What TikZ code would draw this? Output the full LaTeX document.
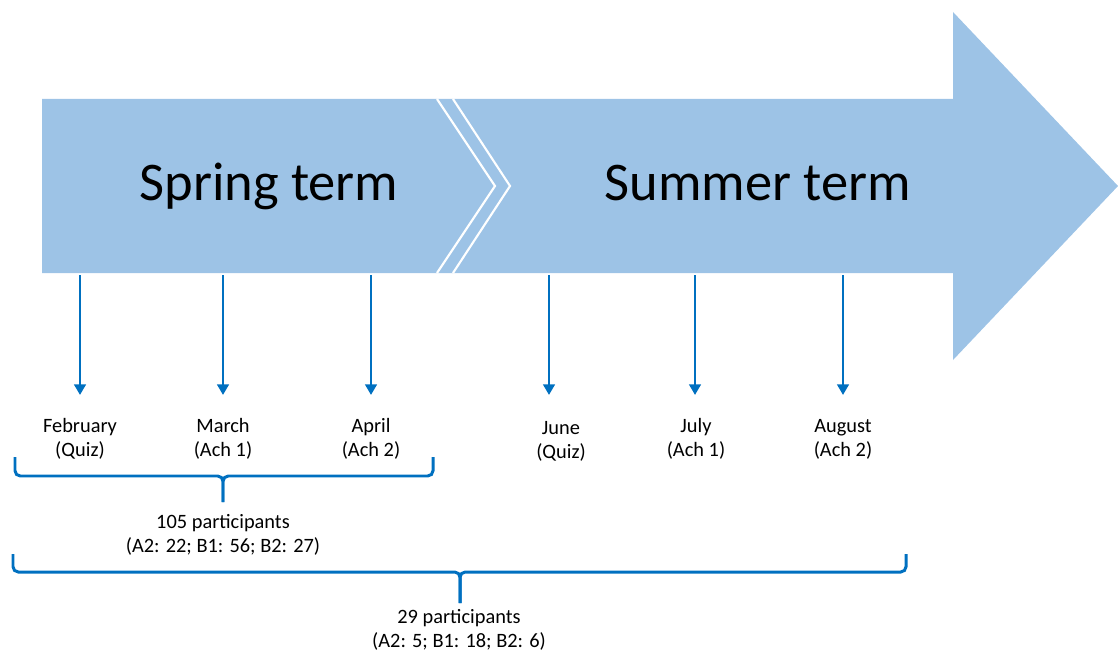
\documentclass[tikz,border=0pt]{standalone}
\usepackage{fontspec}
\setmainfont{Carlito}
\usetikzlibrary{arrows.meta}
\definecolor{termblue}{HTML}{9DC3E6}
\definecolor{markblue}{HTML}{0070C0}
\tikzset{
  month/.style={align=center,inner sep=0pt,font=\fontsize{11.6}{13.7}\selectfont},
  count/.style={align=center,inner sep=0pt,font=\fontsize{11.6}{13.7}\selectfont},
  termtitle/.style={anchor=base,inner sep=0pt,font=\fontsize{31}{37}\selectfont},
  tick/.style={markblue,line width=1.6pt,-{Triangle[width=6.5pt,length=6pt]}},
  bracket/.style={markblue,line width=1.7pt,rounded corners=3pt}
}
\begin{document}
\begin{tikzpicture}[x=0.02cm,y=-0.02cm]
    \useasboundingbox (0,0) rectangle (1118,652);
    % big arrow
    \fill[termblue] (42,99) -- (953,99) -- (953,12) -- (1118,186) -- (953,360)
      -- (953,273) -- (42,273) -- cycle;
    % chevron split
    \draw[white,line width=1.2pt] (437,99) -- (495,186) -- (437,273);
    \draw[white,line width=1.2pt] (453,99) -- (510,186) -- (453,273);
    \node[termtitle] (spring) at (269,200) {Spring term};
    \node[termtitle] (summer) at (758,200) {Summer term};
    % months
    \node[month] (feb) at (80,439) {February\\(Quiz)};
    \node[month] (mar) at (223,439) {March\\(Ach 1)};
    \node[month] (apr) at (371,439) {April\\(Ach 2)};
    \node[month] (jun) at (561,441) {June\\(Quiz)};
    \node[month] (jul) at (696,439) {July\\(Ach 1)};
    \node[month] (aug) at (843,439) {August\\(Ach 2)};
    % arrows down from the terms
    \coordinate (feb top) at (80,275);   \coordinate (feb end) at (80,395);
    \coordinate (mar top) at (223,275);  \coordinate (mar end) at (223,395);
    \coordinate (apr top) at (371,275);  \coordinate (apr end) at (371,395);
    \coordinate (jun top) at (549,275);  \coordinate (jun end) at (549,395);
    \coordinate (jul top) at (695,275);  \coordinate (jul end) at (695,395);
    \coordinate (aug top) at (843,275);  \coordinate (aug end) at (843,395);
    \draw[tick] (feb top) -- (feb end);
    \draw[tick] (mar top) -- (mar end);
    \draw[tick] (apr top) -- (apr end);
    \draw[tick] (jun top) -- (jun end);
    \draw[tick] (jul top) -- (jul end);
    \draw[tick] (aug top) -- (aug end);
    % spring bracket
    \coordinate (sp left) at (15,457);
    \coordinate (sp right) at (433,457);
    \coordinate (sp tip) at (223,502);
    \draw[bracket] (sp left) |- (223,476) -- (sp tip);
    \draw[bracket] (sp right) |- (223,476) -- (sp tip);
    \node[count] (sp count) at (223,535) {105 participants\\(A2: 22; B1: 56; B2: 27)};
    % both terms bracket
    \coordinate (all left) at (13,554);
    \coordinate (all right) at (906,554);
    \coordinate (all tip) at (460,603);
    \draw[bracket] (all left) |- (460,572) -- (all tip);
    \draw[bracket] (all right) |- (460,572) -- (all tip);
    \node[count] (all count) at (459,630) {29 participants\\(A2: 5; B1: 18; B2: 6)};
\end{tikzpicture}
\end{document}
